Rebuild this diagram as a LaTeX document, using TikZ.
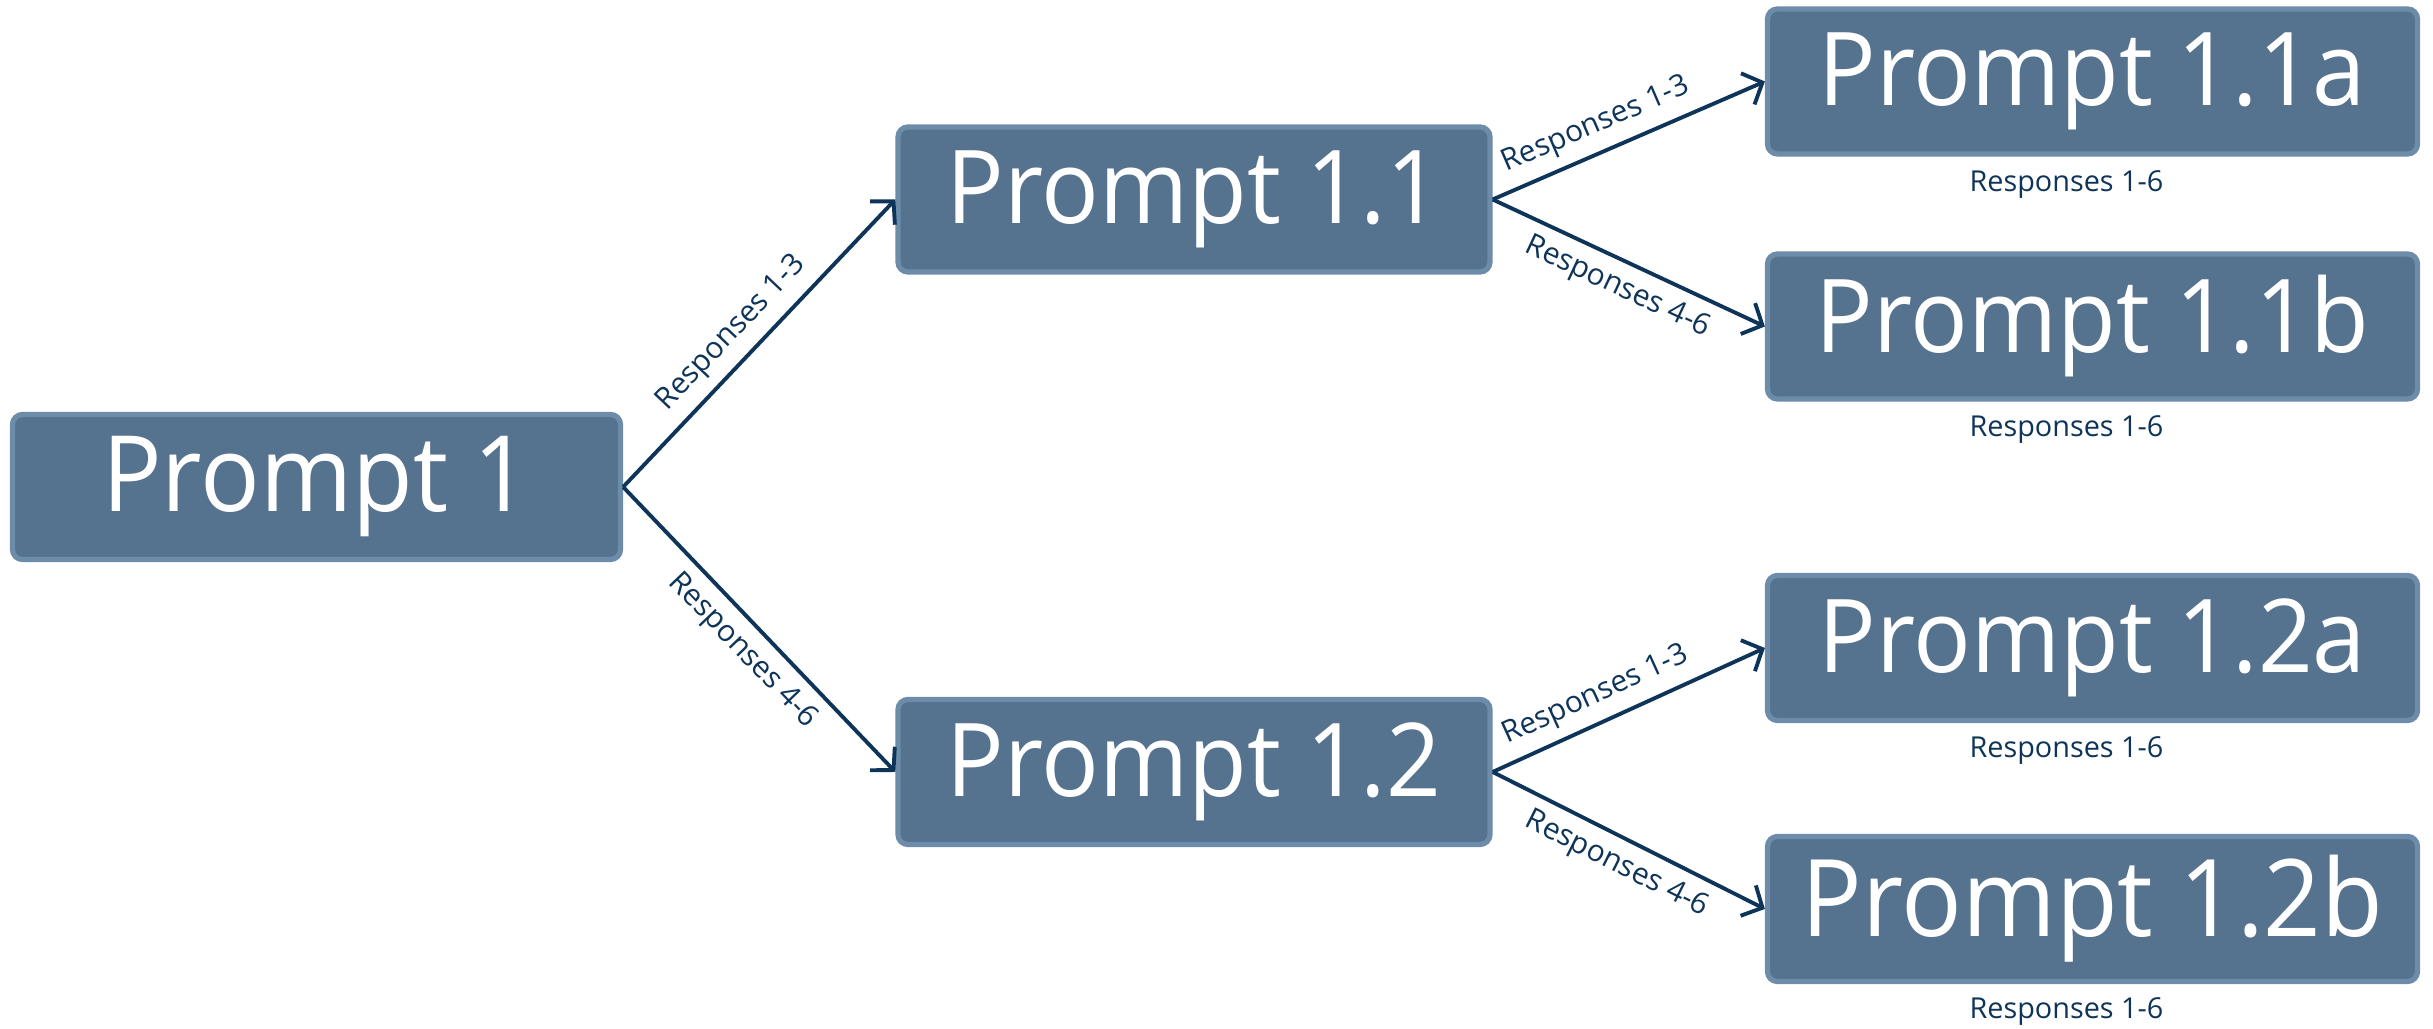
\documentclass[tikz,border=0pt]{standalone}
\usepackage{fontspec}
\setmainfont{Open Sans}
\newfontfamily\promptfont[FakeStretch=0.94]{Open Sans}
\usetikzlibrary{arrows.meta,positioning,shadows}
\definecolor{boxblue}{RGB}{85,114,143}
\definecolor{boxrim}{RGB}{108,140,170}
\definecolor{linkblue}{RGB}{14,52,89}
\tikzset{
  prompt/.style={rectangle,rounded corners=0.1cm,fill=boxblue,draw=boxrim,line width=1.5pt,
    text=white,minimum height=1.45cm,inner sep=0pt,font=\promptfont\fontsize{29}{34}\selectfont,
    drop shadow={opacity=0.2,shadow xshift=0pt,shadow yshift=-0.6pt}},
  link/.style={draw=linkblue,line width=1.1pt,-{Straight Barb[length=1.6mm,width=3.4mm]}},
  resp/.style={text=linkblue,font=\fontsize{8.5}{10}\selectfont,sloped,inner sep=3pt},
  under/.style={text=linkblue,font=\fontsize{8.2}{10}\selectfont,inner sep=0pt}
}
\begin{document}
\begin{tikzpicture}
  \useasboundingbox (0,0) rectangle (24.33,10.29);
  % prompt tree
  \node[prompt,minimum width=6.08cm,font=\promptfont\fontsize{30}{36}\selectfont] (p1) at (3.165,5.42) {Prompt 1};
  \node[prompt,minimum width=5.92cm] (p11) at (11.94,8.295) {Prompt 1.1};
  \node[prompt,minimum width=5.92cm] (p12) at (11.94,2.57) {Prompt 1.2};
  \node[prompt,minimum width=6.5cm] (p11a) at (20.925,9.475) {Prompt 1.1a};
  \node[prompt,minimum width=6.5cm] (p11b) at (20.925,7.025) {Prompt 1.1b};
  \node[prompt,minimum width=6.5cm] (p12a) at (20.925,3.81) {Prompt 1.2a};
  \node[prompt,minimum width=6.5cm,font=\promptfont\fontsize{30.5}{36}\selectfont] (p12b) at (20.925,1.20) {Prompt 1.2b};
  % labels under the leaves
  \node[under,below=0.13cm of p11a,xshift=-0.26cm] (r11a) {Responses 1-6};
  \node[under,below=0.13cm of p11b,xshift=-0.26cm] (r11b) {Responses 1-6};
  \node[under,below=0.13cm of p12a,xshift=-0.26cm] (r12a) {Responses 1-6};
  \node[under,below=0.13cm of p12b,xshift=-0.26cm] (r12b) {Responses 1-6};
  % arrows
  \draw[link] (p1.east) -- node[resp,above,pos=0.47]{Responses 1-3} (p11.west);
  \draw[link] (p1.east) -- node[resp,below,pos=0.51]{Responses 4-6} (p12.west);
  \draw[link] (p11.east) -- node[resp,above,pos=0.42]{Responses 1-3} (p11a.west);
  \draw[link] (p11.east) -- node[resp,below,pos=0.5]{Responses 4-6} (p11b.west);
  \draw[link] (p12.east) -- node[resp,above,pos=0.42]{Responses 1-3} (p12a.west);
  \draw[link] (p12.east) -- node[resp,below,pos=0.5]{Responses 4-6} (p12b.west);
\end{tikzpicture}
\end{document}
